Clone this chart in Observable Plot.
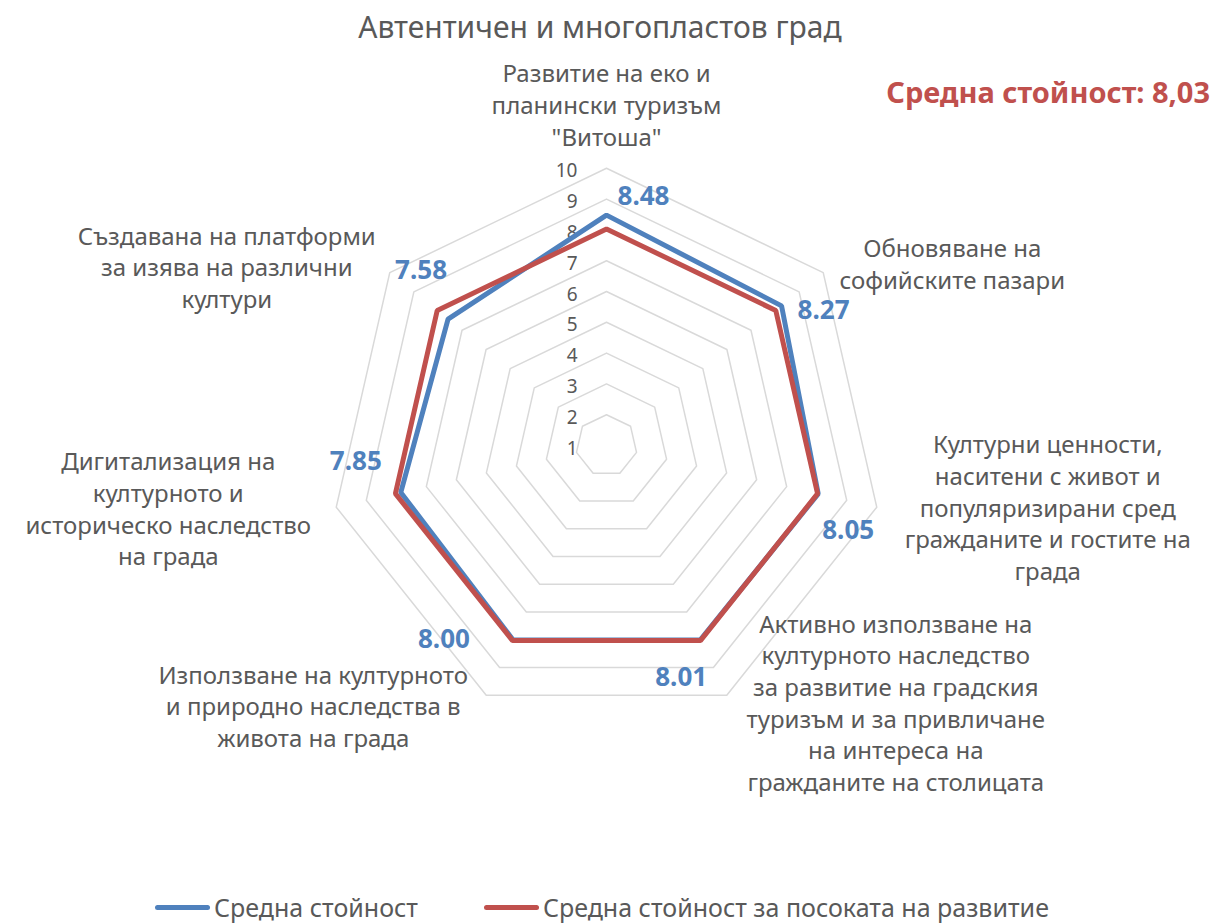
<!DOCTYPE html>
<html lang="bg">
<head>
<meta charset="utf-8">
<script src="https://cdn.jsdelivr.net/npm/d3@7"></script>
<script src="https://cdn.jsdelivr.net/npm/@observablehq/plot@0.6"></script>
<style>
  html, body { margin: 0; padding: 0; background: #fff; }
  body { width: 1214px; height: 923px; position: relative; overflow: hidden; font-family: "Noto Sans", sans-serif; color: #595959; }
  #title { height: 56px; line-height: 54px; text-align: center; font-size: 30px; padding-right: 14px; }
  #note { position: absolute; right: 4px; top: 72px; font-size: 29px; font-weight: bold; color: #C0504D; line-height: 40px; }
  #legend { height: 31px; display: flex; justify-content: center; align-items: center; gap: 66px; font-size: 25px; line-height: 29px; padding-right: 10px; }
  .item { display: flex; align-items: center; gap: 4px; }
  .sw { width: 55px; height: 5px; border-radius: 3px; }
</style>
</head>
<body>
<div id="title"></div>
<div id="note"></div>
<div id="chart"></div>
<div id="legend"></div>
<script>
// ---- data ----
const title = "Автентичен и многопластов град";
const categories = [
  "Развитие на еко и\nпланински туризъм\n\"Витоша\"",
  "Обновяване на\nсофийските пазари",
  "Културни ценности,\nнаситени с живот и\nпопуляризирани сред\nгражданите и гостите на\nграда",
  "Активно използване на\nкултурното наследство\nза развитие на градския\nтуризъм и за привличане\nна интереса на\nгражданите на столицата",
  "Използване на културното\nи природно наследства в\nживота на града",
  "Дигитализация на\nкултурното и\nисторическо наследство\nна града",
  "Създавана на платформи\nза изява на различни\nкултури"
];
const seriesNames = ["Средна стойност", "Средна стойност за посоката на развитие"];
const blueValues = [8.48, 8.27, 8.05, 8.01, 8.00, 7.85, 7.58];
const redValues = [8.03, 8.03, 8.03, 8.03, 8.03, 8.03, 8.03];
const tickValues = [1, 2, 3, 4, 5, 6, 7, 8, 9, 10];
const colors = ["#4F81BD", "#C0504D"];

// ---- layout (styling only) ----
const rMin = 1, rMax = 10;
const catOffsets = [[0, -64.5], [129, -9.5], [171, -0.5], [169, 6.5], [-173, 10], [-168, 0.5], [-163, -6.5]];
const valOffsets = [[37, -18], [42, 5], [30, 37], [-19, 38], [-69, 0], [-45, -31], [-27, -48]];
const textColor = "#595959";
const font = "'Noto Sans', sans-serif";

const n = categories.length;
const ang = i => 2 * Math.PI * i / n;
const px = (v, i) => (v - rMin) * Math.sin(ang(i));
const py = (v, i) => (v - rMin) * Math.cos(ang(i));

document.getElementById("title").textContent = title;
document.getElementById("note").textContent = "Средна стойност: " + d3.format(".2f")(d3.mean(blueValues)).replace(".", ",");

const rings = [];
for (const t of tickValues.filter(t => t > rMin)) {
  for (let i = 0; i < n; i++) rings.push({ring: t, x: px(t, i), y: py(t, i)});
}
const rows = [];
blueValues.forEach((v, i) => rows.push({s: seriesNames[0], x: px(v, i), y: py(v, i)}));
redValues.forEach((v, i) => rows.push({s: seriesNames[1], x: px(v, i), y: py(v, i)}));

const W = 1214, H = 836, cx = 606, cy = 389, R = 277.2;
const span = rMax - rMin;

const marks = [
  Plot.line(rings, {x: "x", y: "y", z: "ring", curve: "linear-closed", stroke: "#d9d9d9", strokeWidth: 1.5}),
  Plot.text(tickValues, {x: d => 0, y: d => d - rMin, text: d => String(d), textAnchor: "end", dx: -29, dy: 3, fontSize: 19, fill: textColor}),
  Plot.line(rows, {x: "x", y: "y", z: "s", stroke: "s", curve: "linear-closed", strokeWidth: 5, strokeLinejoin: "miter"}),
];
blueValues.forEach((v, i) => {
  marks.push(Plot.text([v], {x: d => px(d, i), y: d => py(d, i), text: d => d.toFixed(2), dx: valOffsets[i][0], dy: valOffsets[i][1], fontSize: 26, fontWeight: "bold", fill: colors[0]}));
});
categories.forEach((c, i) => {
  marks.push(Plot.text([c], {x: d => px(rMax, i), y: d => py(rMax, i), text: d => d, dx: catOffsets[i][0], dy: catOffsets[i][1], fontSize: 24, lineHeight: 1.32, lineAnchor: "middle", textAnchor: "middle", fill: textColor}));
});

const chart = Plot.plot({
  width: W, height: H,
  marginLeft: cx - R, marginRight: W - cx - R,
  marginTop: cy - R, marginBottom: H - cy - R,
  x: {domain: [-span, span], axis: null},
  y: {domain: [-span, span], axis: null},
  color: {domain: seriesNames, range: colors},
  style: {fontFamily: font, background: "transparent", overflow: "visible"},
  marks
});
chart.setAttribute("lang", "bg");
document.getElementById("chart").appendChild(chart);

const legend = document.getElementById("legend");
seriesNames.forEach((s, i) => {
  const it = document.createElement("div"); it.className = "item";
  const sw = document.createElement("div"); sw.className = "sw"; sw.style.background = colors[i];
  const tx = document.createElement("span"); tx.textContent = s;
  it.appendChild(sw); it.appendChild(tx); legend.appendChild(it);
});
</script>
</body>
</html>
